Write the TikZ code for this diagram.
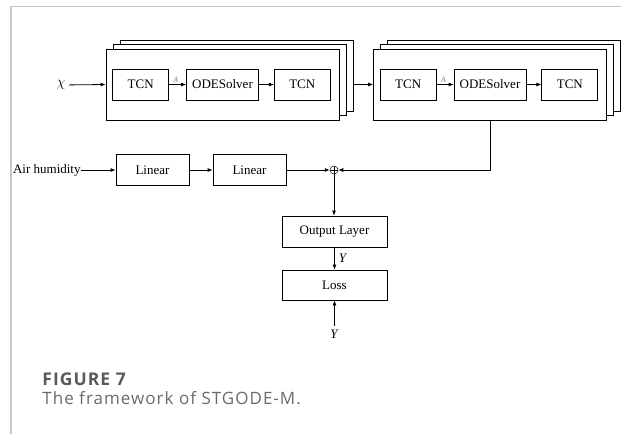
\documentclass[tikz,border=0pt]{standalone}
\usepackage{fontspec}
\setmainfont{Liberation Serif}
\newfontfamily\capfont[LetterSpace=6]{Open Sans}
\usepackage{xcolor}
\usetikzlibrary{arrows.meta, positioning, calc}

\definecolor{framegray}{HTML}{C8C8C8}
\definecolor{capgray}{HTML}{5A5A5A}
\definecolor{textgray}{HTML}{6A6A6A}

\begin{document}
\begin{tikzpicture}[
    x=1pt, y=-1pt,
    font=\fontsize{13}{15}\selectfont,
    >={Latex[length=5pt,width=4pt]},
    line width=0.8pt,
    block/.style={draw, minimum height=31pt, inner sep=0pt},
    tcn/.style={block, minimum width=56pt},
    ode/.style={block, minimum width=72pt},
    lin/.style={block, minimum width=73pt},
    wide/.style={block, minimum width=105pt},
    stack/.style={draw, fill=white, minimum width=233pt, minimum height=71pt, inner sep=0pt},
    adj/.style={above, pos=0.4, inner sep=1.5pt, text=gray, font=\fontsize{8}{9}\selectfont\itshape}
]
    \useasboundingbox (0,0) rectangle (621,434);

    % Frame lines
    \draw[framegray, line width=1.6pt] (11,434) -- (11,6.5) -- (621,6.5);

    % First stack
    \node[stack] (s1c) at (236.5,75.5) {};
    \node[stack] (s1b) at (229.5,80) {};
    \node[stack] (s1a) at (222.5,84.5) {};
    \node[ode] (ode1) at (222.5,84.5) {ODESolver};
    \node[tcn] (tcn1) [left=17pt of ode1] {TCN};
    \node[tcn] (tcn2) [right=15pt of ode1] {TCN};

    % Second stack
    \node[stack] (s2c) at (504,75.5) {};
    \node[stack] (s2b) at (497,80) {};
    \node[stack] (s2a) at (490,84.5) {};
    \node[ode] (ode2) at (490,84.5) {ODESolver};
    \node[tcn] (tcn3) [left=17pt of ode2] {TCN};
    \node[tcn] (tcn4) [right=15pt of ode2] {TCN};

    % Input
    \node[font=\fontsize{15}{17}\selectfont] (chi) at (61,85) {$\chi$};
    \draw[->] (chi) -- (s1a.west);

    \draw[->] (tcn1) -- node[adj] {A} (ode1);
    \draw[->] (ode1) -- (tcn2);
    \draw[->] (tcn3) -- node[adj] {A} (ode2);
    \draw[->] (ode2) -- (tcn4);
    \draw[->] (s1c.east |- s1a.east) -- (s2a.west);

    % Humidity branch
    \node[anchor=east, inner sep=0pt] (hum) at (81,170) {Air humidity};
    \node[lin] (lin1) at (152.5,170) {Linear};
    \node[lin] (lin2) at (249.5,170) {Linear};
    \node[circle, draw, line width=0.5pt, minimum size=8pt, inner sep=0pt,
        path picture={
            \draw[line width=0.5pt] (path picture bounding box.north) -- (path picture bounding box.south);
            \draw[line width=0.5pt] (path picture bounding box.west) -- (path picture bounding box.east);
        }] (plus) at (334,170) {};
    \draw[->] (hum) -- (lin1);
    \draw[->] (lin1) -- (lin2);
    \draw[->] (lin2) -- (plus);
    \draw[->] (s2a.south) |- (plus);

    % Output
    \node[wide] (out) at (334.5,231.5) {Output Layer};
    \node[wide, minimum height=30pt] (loss) at (334.5,285) {Loss};
    \node (ytrue) at (334.5,334) {\textit{Y}};
    \draw[->] (plus) -- (plus |- out.north);
    \draw[->] (out) -- node[right, inner sep=4pt] {\textit{Y}} (loss);
    \draw[->] (ytrue) -- (loss);

    % Caption
    \node[anchor=base west, inner sep=0pt, text=capgray,
        font=\capfont\bfseries\fontsize{17.5}{20}\selectfont] (fig) at (42,385) {FIGURE 7};
    \node[anchor=base west, inner sep=0pt, text=textgray,
        font=\capfont\fontsize{17}{20}\selectfont] (cap) at (42,404) {The framework of STGODE-M.};
\end{tikzpicture}
\end{document}
